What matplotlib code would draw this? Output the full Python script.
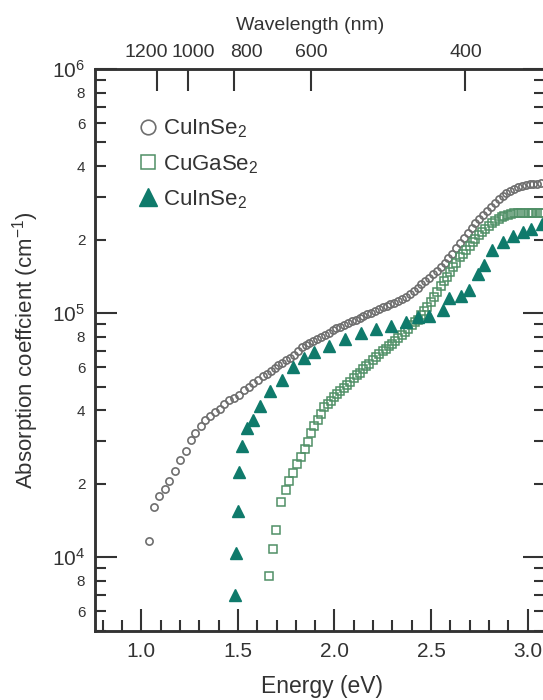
import matplotlib
matplotlib.use("Agg")
import matplotlib.pyplot as plt
from matplotlib.ticker import FixedLocator, FixedFormatter
from matplotlib.transforms import ScaledTranslation

plt.rcParams['font.family'] = ['Liberation Sans', 'DejaVu Sans']
plt.rcParams['mathtext.fontset'] = 'custom'
plt.rcParams['mathtext.rm'] = 'Liberation Sans'
plt.rcParams['mathtext.default'] = 'regular'

# CuInSe2 (open circles): energy (eV), absorption (cm^-1)
cis_e = [1.04, 1.065, 1.09, 1.12, 1.145, 1.175, 1.20, 1.23, 1.255, 1.28,
         1.31, 1.33, 1.355, 1.38, 1.405, 1.43, 1.455, 1.48, 1.505, 1.53,
         1.555, 1.58, 1.605, 1.63, 1.65, 1.67, 1.69, 1.71, 1.73, 1.75,
         1.77, 1.79, 1.81, 1.83, 1.85, 1.87, 1.89, 1.91, 1.93, 1.95,
         1.97, 1.99, 2.01, 2.03, 2.05, 2.07, 2.09, 2.11, 2.13, 2.15,
         2.17, 2.19, 2.21, 2.23, 2.25, 2.27, 2.29, 2.31, 2.33, 2.35,
         2.37, 2.39, 2.41, 2.43, 2.45, 2.47, 2.49, 2.51, 2.53, 2.55,
         2.57, 2.59, 2.61, 2.63, 2.65, 2.67, 2.69, 2.71, 2.73, 2.75,
         2.77, 2.79, 2.81, 2.83, 2.85, 2.87, 2.89, 2.91, 2.93, 2.95,
         2.97, 2.99, 3.01, 3.03, 3.05, 3.07]
cis_a = [1.16e4, 1.60e4, 1.78e4, 1.91e4, 2.06e4, 2.26e4, 2.49e4, 2.71e4, 3.03e4, 3.24e4,
         3.44e4, 3.63e4, 3.80e4, 3.93e4, 4.05e4, 4.25e4, 4.39e4, 4.50e4, 4.63e4, 4.82e4,
         5.00e4, 5.16e4, 5.33e4, 5.50e4, 5.65e4, 5.80e4, 5.95e4, 6.10e4, 6.25e4, 6.40e4,
         6.55e4, 6.75e4, 7.00e4, 7.25e4, 7.40e4, 7.55e4, 7.70e4, 7.85e4, 8.00e4, 8.15e4,
         8.30e4, 8.50e4, 8.65e4, 8.80e4, 8.95e4, 9.10e4, 9.25e4, 9.40e4, 9.55e4, 9.75e4,
         9.90e4, 1.005e5, 1.02e5, 1.04e5, 1.055e5, 1.07e5, 1.085e5, 1.10e5, 1.12e5, 1.14e5,
         1.165e5, 1.195e5, 1.23e5, 1.27e5, 1.31e5, 1.35e5, 1.39e5, 1.44e5, 1.49e5, 1.55e5,
         1.61e5, 1.68e5, 1.75e5, 1.84e5, 1.93e5, 2.03e5, 2.13e5, 2.23e5, 2.33e5, 2.43e5,
         2.53e5, 2.63e5, 2.73e5, 2.83e5, 2.93e5, 3.02e5, 3.10e5, 3.17e5, 3.23e5, 3.28e5,
         3.32e5, 3.35e5, 3.37e5, 3.38e5, 3.39e5, 3.40e5]

# CuGaSe2 (open squares)
cgs_e = [1.663, 1.681, 1.698, 1.724, 1.75, 1.767, 1.784, 1.807, 1.827, 1.848,
         1.865, 1.879, 1.896, 1.914, 1.931, 1.948, 1.965, 1.98, 2.00, 2.015,
         2.03, 2.05, 2.065, 2.08, 2.10, 2.115, 2.13, 2.15, 2.165, 2.18,
         2.20, 2.215, 2.23, 2.25, 2.265, 2.28, 2.30, 2.315, 2.33, 2.35,
         2.365, 2.38, 2.40, 2.415, 2.43, 2.45, 2.465, 2.48, 2.50, 2.515,
         2.53, 2.55, 2.565, 2.58, 2.60, 2.615, 2.63, 2.65, 2.665, 2.68,
         2.70, 2.715, 2.73, 2.75, 2.765, 2.78, 2.80, 2.815, 2.83, 2.85,
         2.865, 2.88, 2.90, 2.915, 2.93, 2.95, 2.965, 2.98, 3.00, 3.015,
         3.03, 3.05, 3.065, 3.08]
cgs_a = [8.4e3, 1.08e4, 1.29e4, 1.68e4, 1.88e4, 2.06e4, 2.21e4, 2.40e4, 2.57e4, 2.78e4,
         2.96e4, 3.22e4, 3.43e4, 3.63e4, 3.87e4, 4.12e4, 4.25e4, 4.38e4, 4.53e4, 4.65e4,
         4.78e4, 4.95e4, 5.08e4, 5.22e4, 5.40e4, 5.55e4, 5.70e4, 5.90e4, 6.05e4, 6.20e4,
         6.45e4, 6.63e4, 6.80e4, 7.00e4, 7.15e4, 7.30e4, 7.50e4, 7.68e4, 7.88e4, 8.10e4,
         8.35e4, 8.60e4, 8.90e4, 9.15e4, 9.40e4, 9.80e4, 1.02e5, 1.06e5, 1.11e5, 1.16e5,
         1.22e5, 1.29e5, 1.35e5, 1.41e5, 1.48e5, 1.55e5, 1.61e5, 1.69e5, 1.75e5, 1.81e5,
         1.89e5, 1.95e5, 2.01e5, 2.09e5, 2.15e5, 2.21e5, 2.28e5, 2.33e5, 2.38e5, 2.43e5,
         2.47e5, 2.50e5, 2.53e5, 2.55e5, 2.56e5, 2.57e5, 2.58e5, 2.58e5, 2.58e5, 2.58e5,
         2.58e5, 2.58e5, 2.58e5, 2.58e5]

# CuInSe2 (filled triangles)
tri_e = [1.486, 1.492, 1.50, 1.508, 1.523, 1.545, 1.578, 1.614, 1.667, 1.73,
         1.784, 1.844, 1.896, 1.974, 2.055, 2.138, 2.215, 2.293, 2.37, 2.431,
         2.491, 2.56, 2.594, 2.655, 2.697, 2.741, 2.772, 2.818, 2.87, 2.922,
         2.974, 3.02, 3.077]
tri_a = [7.0e3, 1.04e4, 1.54e4, 2.23e4, 2.85e4, 3.38e4, 3.66e4, 4.15e4, 4.79e4, 5.32e4,
         6.00e4, 6.53e4, 6.91e4, 7.35e4, 7.83e4, 8.26e4, 8.57e4, 8.89e4, 9.17e4, 9.61e4,
         9.77e4, 1.03e5, 1.15e5, 1.18e5, 1.24e5, 1.45e5, 1.58e5, 1.82e5, 1.96e5, 2.07e5,
         2.15e5, 2.20e5, 2.31e5]

# top axis: wavelength labels and the energy where each tick sits in the figure
wl_labels = ['1200', '1000', '800', '600', '400']
wl_pos = [1.083, 1.243, 1.481, 1.879, 2.675]
wl_shift_px = [-11, 5, 12, 0, 1]   # labels nudged apart as in the original

ink = '#333333'
fig = plt.figure(figsize=(5.43, 7.0), dpi=100)
ax = fig.add_axes([95 / 543, 69 / 700, 450 / 543, 562 / 700])

ax.plot(cis_e, cis_a, 'o', ms=5.2, mfc='none', mec='#6e6e6e', mew=1.2,
        label='CuInSe$_2$')
ax.plot(cgs_e, cgs_a, 's', ms=6.2, mfc='none', mec='#4f8f66', mew=1.1,
        label='CuGaSe$_2$')
ax.plot(tri_e, tri_a, '^', ms=8.5, color='#0f7a6b', mec='#0f7a6b',
        label='CuInSe$_2$')

ax.set_yscale('log')
ax.set_xlim(0.76, 3.09)
ax.set_ylim(4980, 1e6)

# x ticks
ax.xaxis.set_major_locator(FixedLocator([1.0, 1.5, 2.0, 2.5, 3.0]))
ax.xaxis.set_minor_locator(FixedLocator([0.8 + 0.1 * i for i in range(23)]))
ax.xaxis.set_major_formatter(FixedFormatter(['1.0', '1.5', '2.0', '2.5', '3.0']))

# y ticks
major_y = [1e4, 1e5, 1e6]
minor_y, minor_lbl = [], []
for dec in [1e3, 1e4, 1e5]:
    for m in range(2, 10):
        v = m * dec
        if 4980 < v < 1e6:
            minor_y.append(v)
            minor_lbl.append(str(m) if m in (2, 4, 6, 8) else '')
ax.yaxis.set_major_locator(FixedLocator(major_y))
ax.yaxis.set_major_formatter(FixedFormatter(['10$^4$', '10$^5$', '10$^6$']))
ax.yaxis.set_minor_locator(FixedLocator(minor_y))
ax.yaxis.set_minor_formatter(FixedFormatter(minor_lbl))

ax.tick_params(which='both', direction='in', colors=ink, width=1.5,
               left=True, right=True, bottom=True, top=False,
               labelleft=True, labelright=False)
ax.tick_params(which='major', length=16)
ax.tick_params(which='minor', length=8)
ax.tick_params(axis='y', which='major', labelsize=15, pad=7)
ax.tick_params(axis='y', which='minor', labelsize=11, pad=7)
ax.tick_params(axis='x', which='major', labelsize=15, pad=8)
for s in ax.spines.values():
    s.set_linewidth(1.8)
    s.set_color(ink)

ax.set_xlabel('Energy (eV)', fontsize=16.5, color=ink)
ax.xaxis.label.set_va('center')
ax.xaxis.set_label_coords(0.505, -0.0996)
ax.set_ylabel('Absorption coeffcient (cm$^{-1}$)', fontsize=16, color=ink)
ax.yaxis.label.set_va('center')
ax.yaxis.set_label_coords(-0.155, 0.5)

# wavelength axis on top
ax2 = ax.twiny()
ax2.set_xlim(ax.get_xlim())
ax2.xaxis.set_major_locator(FixedLocator(wl_pos))
ax2.xaxis.set_major_formatter(FixedFormatter(wl_labels))
ax2.xaxis.set_minor_locator(FixedLocator([]))
ax2.tick_params(which='major', direction='in', length=16, width=1.5,
                colors=ink, labelsize=14, pad=6)
ax2.set_xlabel('Wavelength (nm)', fontsize=14, color=ink)
ax2.xaxis.label.set_va('center')
ax2.xaxis.set_label_coords(0.478, 1.078)
for s in ax2.spines.values():
    s.set_linewidth(1.8)
    s.set_color(ink)
for lbl, dx in zip(ax2.get_xticklabels(), wl_shift_px):
    lbl.set_transform(lbl.get_transform() +
                      ScaledTranslation(dx / 100, 0, fig.dpi_scale_trans))

leg = ax.legend(loc='upper left', bbox_to_anchor=(0.092, 0.913), frameon=False,
                fontsize=16, handletextpad=0.2, labelspacing=0.56,
                handlelength=1.0, borderaxespad=0, borderpad=0)
for t in leg.get_texts():
    t.set_color(ink)
for h, ms in zip(leg.legend_handles, [10.5, 10.0, 13.0]):
    h.set_markersize(ms)

fig.savefig('out.png', dpi=100)
